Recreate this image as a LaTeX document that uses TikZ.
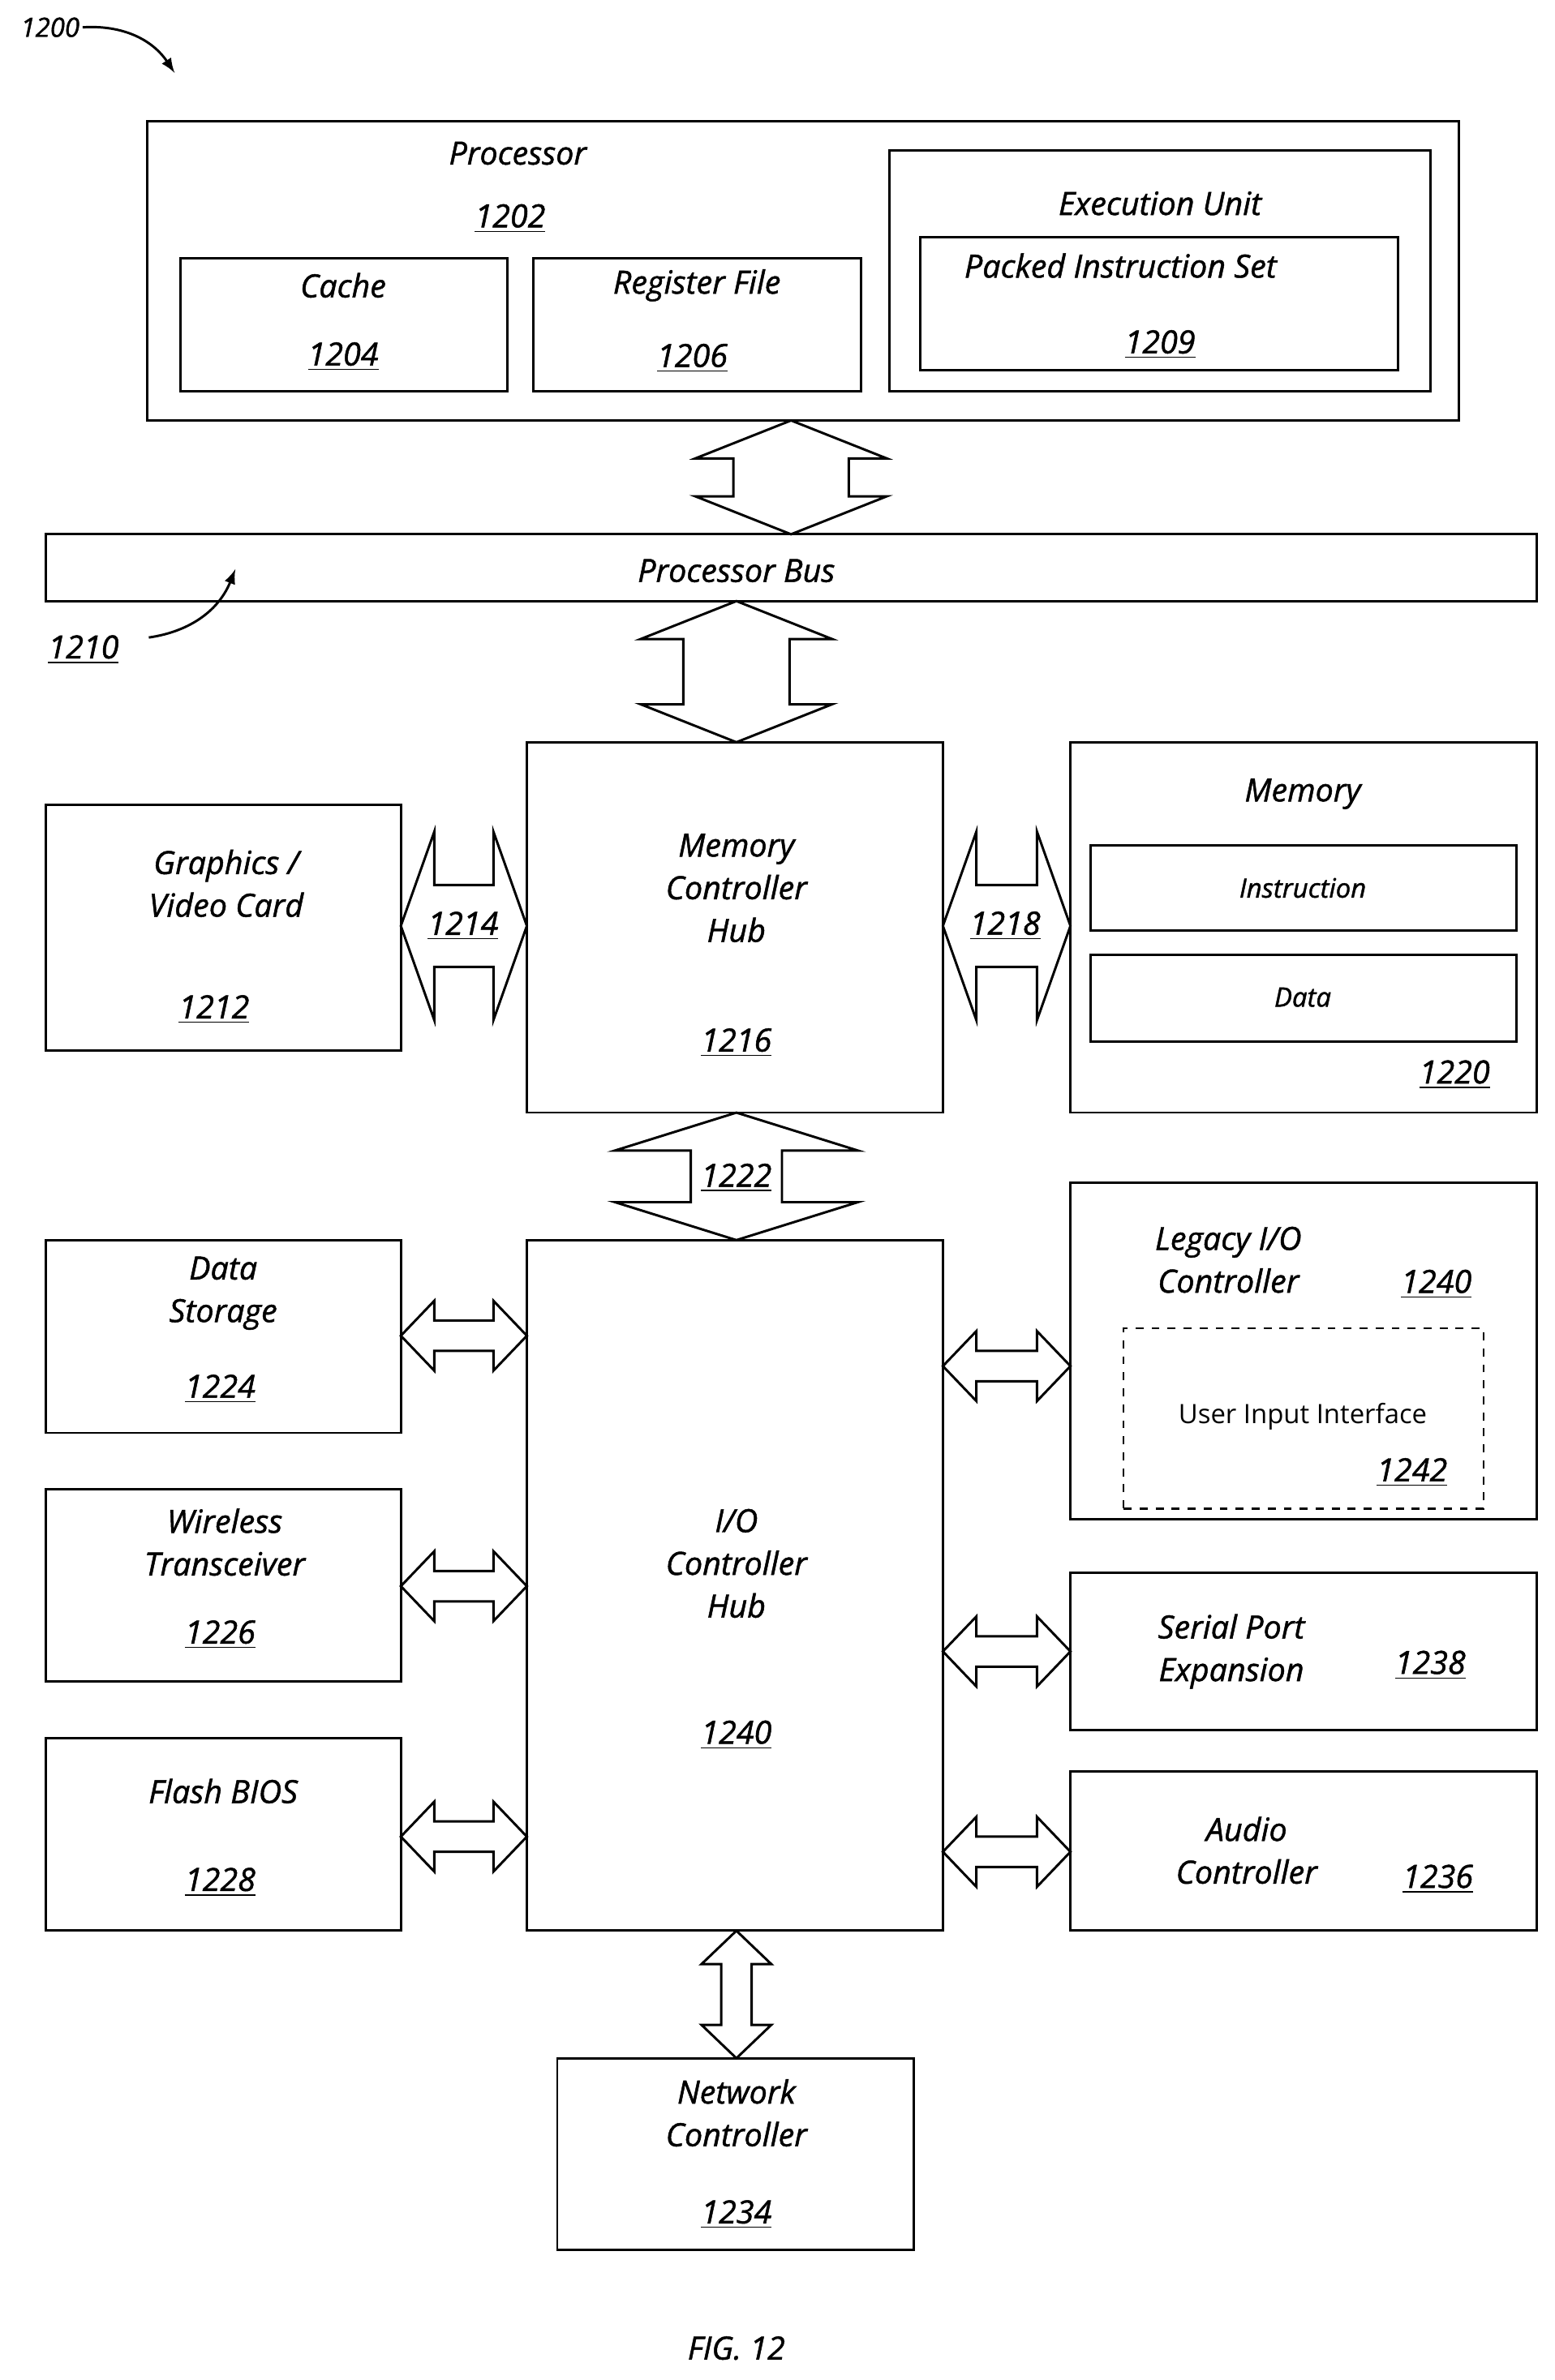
\documentclass[tikz,border=0pt]{standalone}
\usepackage{fontspec}
\setmainfont{Open Sans}[ItalicFeatures={FakeBold=1.2}]
\usetikzlibrary{positioning}
\tikzset{
  box/.style={draw, line width=0.9pt, inner sep=0pt},
  lbl/.style={font=\itshape\fontsize{12}{14}\selectfont, inner sep=1pt},
  num/.style={lbl, font=\itshape\fontsize{12}{14}\selectfont},
  harrow/.style={draw, line width=0.9pt, fill=white}
}
\newcommand{\ul}[1]{\underline{#1}}
% hollow double arrows: centre, ends, head half width, shaft half width, head length
\newcommand{\vdarr}[6]{\draw[harrow] (#1,#2) -- ++(#4,#6) -- (#1+#5,#2+#6) -- (#1+#5,#3-#6) -- (#1+#4,#3-#6) -- (#1,#3) -- (#1-#4,#3-#6) -- (#1-#5,#3-#6) -- (#1-#5,#2+#6) -- (#1-#4,#2+#6) -- cycle;}
\newcommand{\hdarr}[6]{\draw[harrow] (#2,#1) -- ++(#6,#4) -- (#2+#6,#1+#5) -- (#3-#6,#1+#5) -- (#3-#6,#1+#4) -- (#3,#1) -- (#3-#6,#1-#4) -- (#3-#6,#1-#5) -- (#2+#6,#1-#5) -- (#2+#6,#1-#4) -- cycle;}
\begin{document}
\begin{tikzpicture}[x=0.02cm, y=-0.02cm]
  \useasboundingbox (0,0) rectangle (1024,1568);
  % processor
  \node[box, minimum width=17.28cm, minimum height=3.94cm] (proc) at (529,178.5) {};
  \node[lbl] at (341,101) {Processor};
  \node[num] at (336,144) {\ul{1202}};
  \node[box, minimum width=4.3cm, minimum height=1.76cm] (cache) at (226.5,214) {};
  \node[lbl] at (226,188) {Cache};
  \node[num] at (226,235) {\ul{1204}};
  \node[box, minimum width=4.32cm, minimum height=1.76cm] (reg) at (459,214) {};
  \node[lbl] at (459,188) {Register File};
  \node[num] at (456,236) {\ul{1206}};
  \node[box, minimum width=7.12cm, minimum height=3.18cm] (exec) at (764,178.5) {};
  \node[lbl] at (764,134) {Execution Unit};
  \node[box, minimum width=6.3cm, minimum height=1.76cm] (packed) at (763.5,200) {};
  \node[lbl] at (738,175) {Packed Instruction Set};
  \node[num] at (764,227) {\ul{1209}};
  \vdarr{521}{277}{352}{63}{38}{25}
  % bus
  \node[box, minimum width=19.64cm, minimum height=0.88cm] (bus) at (521,374) {};
  \node[lbl] at (485,376) {Processor Bus};
  \node[num] (n1210) at (55,428) {\ul{1210}};
  \draw[line width=0.9pt, -latex] (98,420) to[bend right=30] (155,375);
  \vdarr{485}{396}{489}{63}{35}{25}
  % memory controller hub
  \node[box, minimum width=5.48cm, minimum height=4.88cm] (mch) at (484,611) {};
  \node[lbl, align=center] at (485,585) {Memory\\[2pt]Controller\\[2pt]Hub};
  \node[num] at (485,687) {\ul{1216}};
  \node[box, minimum width=4.68cm, minimum height=3.24cm] (gfx) at (147,611) {};
  \node[lbl, align=center] at (149,582) {Graphics /\\[2pt]Video Card};
  \node[num] at (141,665) {\ul{1212}};
  \hdarr{610}{264}{347}{62}{27}{22}
  \node[num] at (305,610) {\ul{1214}};
  \node[box, minimum width=6.14cm, minimum height=4.88cm] (mem) at (858.5,611) {};
  \node[lbl] at (858,523) {Memory};
  \node[box, minimum width=5.62cm, minimum height=1.12cm] (instr) at (858.5,585) {};
  \node[lbl, font=\itshape\fontsize{10}{12}\selectfont] at (858,585) {Instruction};
  \node[box, minimum width=5.62cm, minimum height=1.14cm] (data) at (858.5,657.5) {};
  \node[lbl, font=\itshape\fontsize{10}{12}\selectfont] at (858,657) {Data};
  \node[num] at (958,708) {\ul{1220}};
  \hdarr{610}{621}{705}{62}{27}{22}
  \node[num] at (662,610) {\ul{1218}};
  \vdarr{485}{733}{817}{80}{30}{25}
  \node[num] at (485,776) {\ul{1222}};
  % I/O controller hub
  \node[box, minimum width=5.48cm, minimum height=9.1cm] (ich) at (484,1044.5) {};
  \node[lbl, align=center] at (485,1030) {I/O\\[2pt]Controller\\[2pt]Hub};
  \node[num] at (485,1143) {\ul{1240}};
  \node[box, minimum width=4.68cm, minimum height=2.54cm] (store) at (147,880.5) {};
  \node[lbl, align=center] at (147,852) {Data\\[2pt]Storage};
  \node[num] at (145,915) {\ul{1224}};
  \hdarr{880}{264}{347}{23}{10}{22}
  \node[box, minimum width=4.68cm, minimum height=2.54cm] (wifi) at (147,1044.5) {};
  \node[lbl, align=center] at (148,1016) {Wireless\\[2pt]Transceiver};
  \node[num] at (145,1077) {\ul{1226}};
  \hdarr{1045}{264}{347}{23}{10}{22}
  \node[box, minimum width=4.68cm, minimum height=2.54cm] (bios) at (147,1208.5) {};
  \node[lbl] at (147,1180) {Flash BIOS};
  \node[num] at (145,1240) {\ul{1228}};
  \hdarr{1210}{264}{347}{23}{10}{22}
  \node[box, minimum width=6.14cm, minimum height=4.44cm] (legacy) at (858.5,890) {};
  \node[lbl, align=center] at (809,830) {Legacy I/O\\[2pt]Controller};
  \node[num] at (946,846) {\ul{1240}};
  \node[box, dashed, line width=0.7pt, minimum width=4.74cm, minimum height=2.38cm] (uii) at (858.5,934.5) {};
  \node[font=\fontsize{10}{12}\selectfont] at (858,933) {User Input Interface};
  \node[num] at (930,970) {\ul{1242}};
  \hdarr{900}{621}{705}{23}{10}{22}
  \node[box, minimum width=6.14cm, minimum height=2.08cm] (serial) at (858.5,1088) {};
  \node[lbl, align=center] at (811,1088) {Serial Port\\[2pt]Expansion};
  \node[num] at (942,1097) {\ul{1238}};
  \hdarr{1088}{621}{705}{23}{10}{22}
  \node[box, minimum width=6.14cm, minimum height=2.1cm] (audio) at (858.5,1219.5) {};
  \node[lbl, align=center] at (821,1219) {Audio\\[2pt]Controller};
  \node[num] at (947,1238) {\ul{1236}};
  \hdarr{1220}{621}{705}{23}{10}{22}
  \node[box, minimum width=4.7cm, minimum height=2.52cm] (net) at (484.5,1419) {};
  \node[lbl, align=center] at (485,1392) {Network\\[2pt]Controller};
  \node[num] at (485,1459) {\ul{1234}};
  \vdarr{485}{1272}{1356}{23}{10}{22}
  % labels
  \node[lbl] (fig) at (485,1547) {FIG. 12};
  \node[num, font=\itshape\fontsize{10}{12}\selectfont] (n1200) at (33,18) {1200};
  \draw[line width=0.9pt, -latex] (n1200.east) to[bend left=30] (115,48);
\end{tikzpicture}
\end{document}
